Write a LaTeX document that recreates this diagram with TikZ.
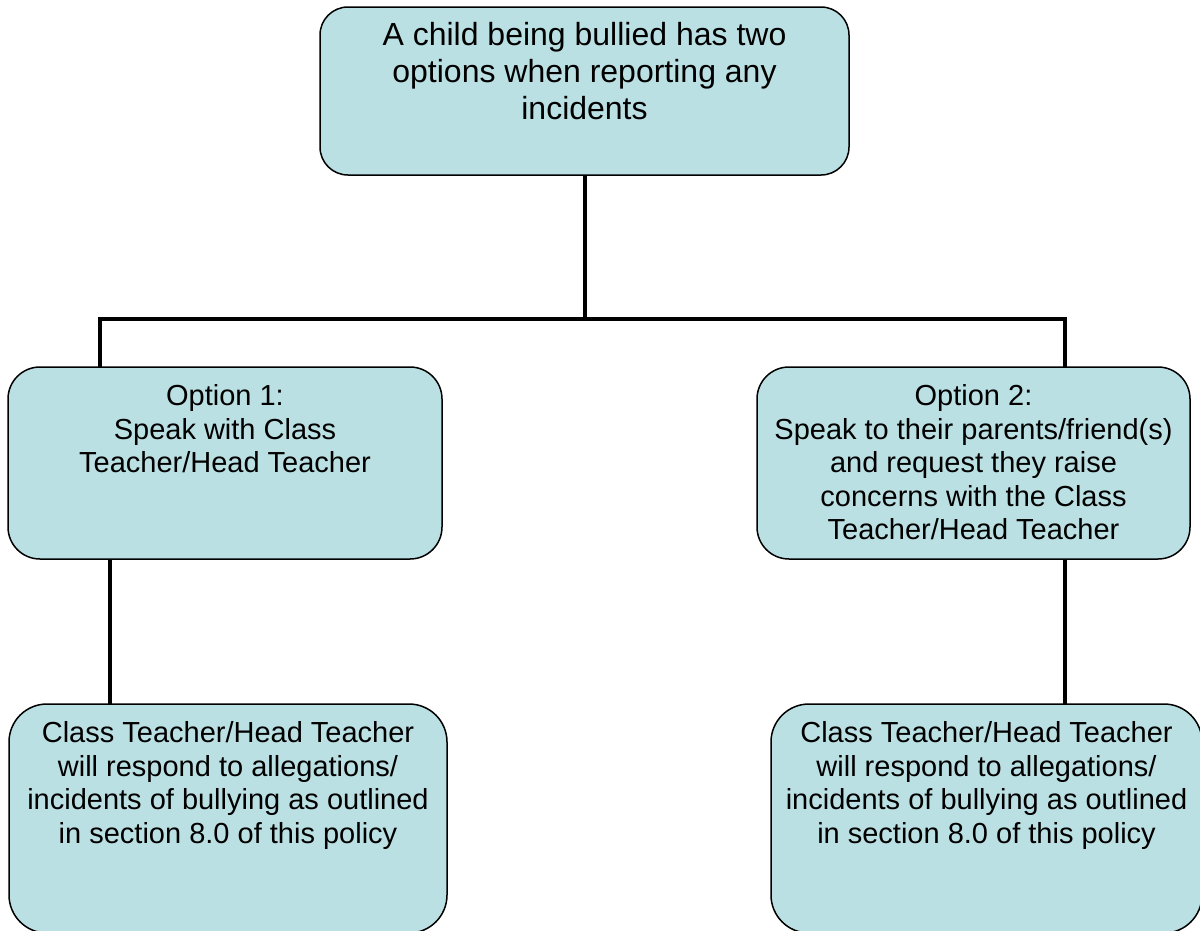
\documentclass[tikz,border=0pt]{standalone}
\usepackage{fontspec}
\setmainfont{Liberation Sans}
\definecolor{boxfill}{RGB}{187,224,227}
\newcommand{\bxt}[4]{\parbox[c][#2][t]{#1}{\centering\vspace*{#3}\strut #4}}
\tikzset{
  box/.style={draw=black, fill=boxfill, line width=1.5pt, inner sep=0pt, outer sep=0pt, anchor=north west},
  bigtext/.style={font=\fontsize{32}{36.8}\selectfont},
  smalltext/.style={font=\fontsize{29}{33.35}\selectfont},
  conn/.style={draw=black, line width=3.3pt, line join=miter}
}
\begin{document}
\begin{tikzpicture}[x=1pt, y=-1pt]
\useasboundingbox (0,0) rectangle (1200,930);
\fill[white] (0,0) rectangle (1200,930);
\clip (0,0) rectangle (1200,930);
\node[box, bigtext, rounded corners=28pt] (top) at (320,7)
  {\bxt{529pt}{168pt}{13.2pt}{A child being bullied has two\\options when reporting any\\incidents}};
\node[box, smalltext, rounded corners=32pt] (opt1) at (8,367)
  {\bxt{434pt}{192pt}{15.6pt}{Option 1:\\Speak with Class\\Teacher/Head Teacher}};
\node[box, smalltext, rounded corners=32pt] (opt2) at (757,367)
  {\bxt{433pt}{192pt}{15.6pt}{Option 2:\\Speak to their parents/friend(s)\\and request they raise\\concerns with the Class\\Teacher/Head Teacher}};
\node[box, smalltext, rounded corners=38pt] (bl) at (9,704)
  {\bxt{438pt}{229pt}{15.6pt}{Class Teacher/Head Teacher\\will respond to allegations/\\incidents of bullying as outlined\\in section 8.0 of this policy}};
\node[box, smalltext, rounded corners=38pt] (br) at (771,704)
  {\bxt{431pt}{229pt}{15.6pt}{Class Teacher/Head Teacher\\will respond to allegations/\\incidents of bullying as outlined\\in section 8.0 of this policy}};
\coordinate (bus) at (585,319);
\coordinate (jl) at (100,319);
\coordinate (jr) at (1065,319);
\coordinate (ll) at (110,600);
\coordinate (rr) at (1065,600);
\draw[conn] (top.south -| bus) -- (bus);
\draw[conn] (opt1.north -| jl) -- (jl) -- (jr) -- (opt2.north -| jr);
\draw[conn] (opt1.south -| ll) -- (bl.north -| ll);
\draw[conn] (opt2.south -| rr) -- (br.north -| rr);
\end{tikzpicture}
\end{document}
